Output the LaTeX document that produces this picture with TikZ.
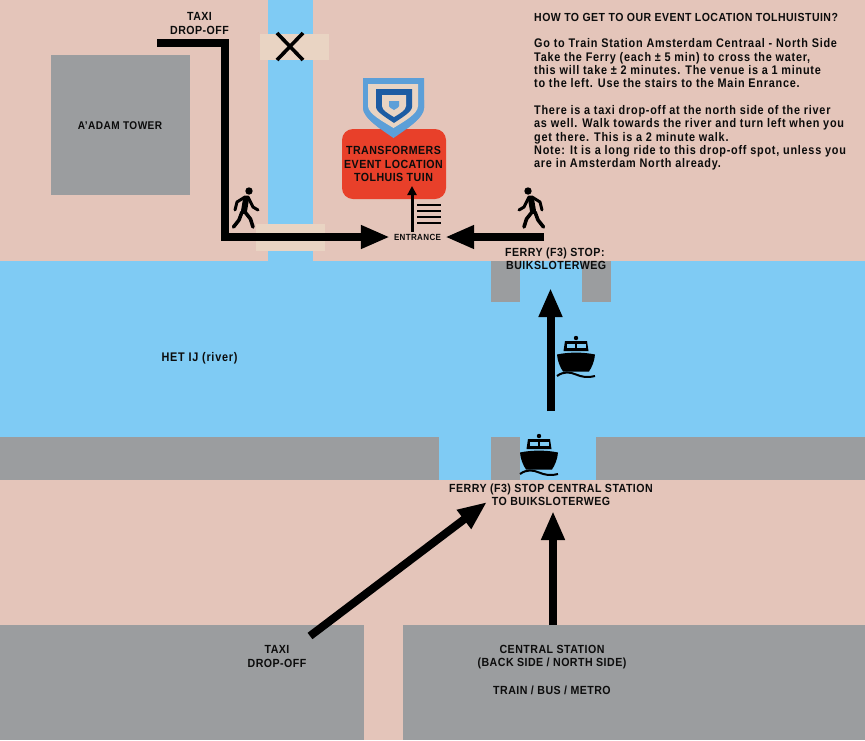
\documentclass[tikz,border=0pt]{standalone}
\usepackage{fontspec}
\setmainfont[LetterSpace=4,FakeStretch=0.9]{Liberation Sans}
\newfontfamily\bodyfont[LetterSpace=6,FakeStretch=0.87]{Liberation Sans}
\usetikzlibrary{arrows.meta}
\definecolor{landc}{HTML}{E4C5BA}
\definecolor{waterc}{HTML}{7FCBF4}
\definecolor{greyc}{HTML}{9B9D9F}
\definecolor{bridgec}{HTML}{E9D4C3}
\definecolor{redc}{HTML}{E8402A}
\definecolor{shieldl}{HTML}{5C9FD8}
\definecolor{shieldd}{HTML}{1D5CA3}
\definecolor{inkc}{HTML}{0C0C0C}
\tikzset{
  lbl/.style={font=\bfseries\fontsize{11.8}{13.3}\selectfont,text=inkc,align=center,inner sep=0pt},
  smalllbl/.style={font=\bfseries\fontsize{8.9}{10}\selectfont,text=inkc,inner sep=0pt},
  bodylbl/.style={font=\bodyfont\bfseries\fontsize{12.5}{13.3}\selectfont,text=inkc,inner sep=0pt},
  route/.style={draw=black,line width=8pt,miter limit=10,-{Triangle[length=29pt,width=22pt]}},
  thinroute/.style={draw=black,line width=3pt,-{Triangle[length=9pt,width=9pt]}},
  stairline/.style={draw=black,line width=2.2pt},
  boat/.pic={
    \fill[black] (0,3) circle (2.2);
    \fill[black] (-12.5,16) -- (-11,6) -- (11,6) -- (12.5,16) -- cycle;
    \fill[waterc] (-9,8.5) rectangle (-1,12.5);
    \fill[waterc] (1,8.5) rectangle (9.5,12.5);
    \fill[black] (-19,19.5) .. controls (-8,17) and (8,17) .. (19,19.5) .. controls (18.5,26) and (16,32) .. (13,36.5) -- (-13,36.5) .. controls (-16,32) and (-18.5,26) .. (-19,19.5) -- cycle;
    \draw[black,line width=2pt] (-19,41) .. controls (-12,36) and (-6,37) .. (0,39.5) .. controls (6,42) and (12,43) .. (19,41);
  },
  walker/.pic={
    \fill[black] (3,-18) circle (3.7);
    \draw[black,line width=6pt,line cap=round,line join=round] (0,-10) -- (-2,2);
    \draw[black,line width=3pt,line cap=round,line join=round] (-11,1) -- (-9,-7) -- (-1,-12) -- (2,-12) -- (7,-2) -- (12,1);
    \draw[black,line width=3.6pt,line cap=round,line join=round] (-4,3) -- (-7,11) -- (-12.5,18);
    \draw[black,line width=3.6pt,line cap=round,line join=round] (-1,3) -- (4.5,10) -- (7,18);
  }
}
\begin{document}
\begin{tikzpicture}[x=1pt,y=-1pt]
\useasboundingbox (0,0) rectangle (865,740);
% land and water
\fill[landc] (0,0) rectangle (865,740);
\fill[waterc] (268,0) rectangle (313,261);
\fill[bridgec] (260,34) rectangle (329,60);
\fill[bridgec] (256,224) rectangle (325,251);
\fill[waterc] (0,261) rectangle (865,437);
\fill[waterc] (439,437) rectangle (596,480);
% grey blocks
\fill[greyc] (51,55) rectangle (190,195);
\fill[greyc] (0,437) rectangle (439,480);
\fill[greyc] (596,437) rectangle (865,480);
\fill[greyc] (491,437) rectangle (520,480);
\fill[greyc] (491,261) rectangle (520,302);
\fill[greyc] (582,261) rectangle (611,302);
\fill[greyc] (0,625) rectangle (364,740);
\fill[greyc] (403,625) rectangle (865,740);
% closed bridge cross
\draw[black,line width=3.6pt] (277,33) -- (303,60);
\draw[black,line width=3.6pt] (303,33) -- (277,60);
% shield
\fill[shieldl] (363,78) -- (424,78) -- (424,108) .. controls (424,118) and (405,130) .. (393.5,138) .. controls (382,130) and (363,118) .. (363,108) -- cycle;
% event box
\node[fill=redc,rounded corners=11pt,minimum width=104pt,minimum height=70pt,inner sep=0pt] (venue) at (394,164) {};
\fill[shieldl] (363,100) -- (424,100) -- (424,108) .. controls (424,118) and (405,130) .. (393.5,138) .. controls (382,130) and (363,118) .. (363,108) -- cycle;
\fill[bridgec] (368,84) -- (418,84) -- (418,106) .. controls (418,114) and (403,122) .. (393.5,128) .. controls (384,122) and (368,114) .. (368,106) -- cycle;
\fill[shieldd] (376,89) -- (412,89) -- (412,107) .. controls (412,112) and (401,118) .. (394,123) .. controls (387,118) and (376,112) .. (376,107) -- cycle;
\fill[bridgec] (382,95) -- (406,95) -- (406,106) .. controls (406,110) and (399,114) .. (394,117) .. controls (389,114) and (382,110) .. (382,106) -- cycle;
\fill[shieldl] (389,101) -- (399,101) -- (399,106) .. controls (399,107) and (396,109) .. (394,110) .. controls (392,109) and (389,107) .. (389,106) -- cycle;
\node[lbl] (venuetext) at (393.5,164) {TRANSFORMERS\\EVENT LOCATION\\TOLHUIS TUIN};
% labels
\node[lbl] (taxinorth) at (199.5,23.5) {TAXI\\DROP-OFF};
\node[lbl,font=\bfseries\fontsize{11.2}{13.3}\selectfont] (tower) at (120,126) {A’ADAM TOWER};
\node[bodylbl] (river) at (199.5,358) {HET IJ (river)};
\node[lbl,align=left,anchor=west] (stopnorth) at (505,258.5) {FERRY (F3) STOP:\\\hspace*{1pt}BUIKSLOTERWEG};
\node[lbl] (stopsouth) at (551,494.5) {FERRY (F3) STOP CENTRAL STATION\\TO BUIKSLOTERWEG};
\node[lbl] (taxisouth) at (277,656.5) {TAXI\\DROP-OFF};
\node[lbl] (station) at (552,657) {CENTRAL STATION\\(BACK SIDE / NORTH SIDE)};
\node[lbl] (modes) at (552,690) {TRAIN / BUS / METRO};
\node[smalllbl,minimum width=55pt,minimum height=10pt] (entrance) at (417.5,237) {ENTRANCE};
\node[lbl,align=left,anchor=north west,font=\bodyfont\bfseries\fontsize{12.5}{13.3}\selectfont] (info) at (534,13) {{\normalfont\bfseries\fontsize{11.7}{13.3}\selectfont HOW TO GET TO OUR EVENT LOCATION TOLHUISTUIN?}\\[13.3pt]
Go to Train Station Amsterdam Centraal - North Side\\
Take the Ferry (each ± 5 min) to cross the water,\\
this will take ± 2 minutes. The venue is a 1 minute\\
to the left. Use the stairs to the Main Enrance.\\[13.3pt]
There is a taxi drop-off at the north side of the river\\
as well. Walk towards the river and turn left when you\\
get there. This is a 2 minute walk.\\
Note: It is a long ride to this drop-off spot, unless you\\
are in Amsterdam North already.};
% connector anchor points
\coordinate (taxistart) at (157,43);
\coordinate (taxibend) at (224.5,43);
\coordinate (taxicorner) at (224.5,237);
\coordinate (ferryend) at (544,237);
\coordinate (crossstart) at (550.5,411);
\coordinate (crosstip) at (550.5,288);
\coordinate (stationtop) at (553,625);
\coordinate (stationtip) at (553,511);
\coordinate (taxidepart) at (310,636);
\coordinate (taxitip) at (487,502);
\coordinate (venuetip) at (412,186);
% routes
\draw[route] (taxistart) -- (taxibend) -- (taxicorner) -- (entrance.west);
\draw[route] (ferryend) -- (entrance.east);
\draw[route] (crossstart) -- (crosstip);
\draw[route] (stationtop) -- (stationtip);
\draw[route] (taxidepart) -- (taxitip);
\draw[thinroute] (entrance.north -| venuetip) -- (venuetip);
% stairs
\foreach \yy in {205,211,217,223} \draw[stairline] (417,\yy) -- (441,\yy);
% icons
\pic at (246,209) {walker};
\pic[xscale=-1] at (531,209) {walker};
\pic at (576,335) {boat};
\pic at (539,433) {boat};
\end{tikzpicture}
\end{document}
